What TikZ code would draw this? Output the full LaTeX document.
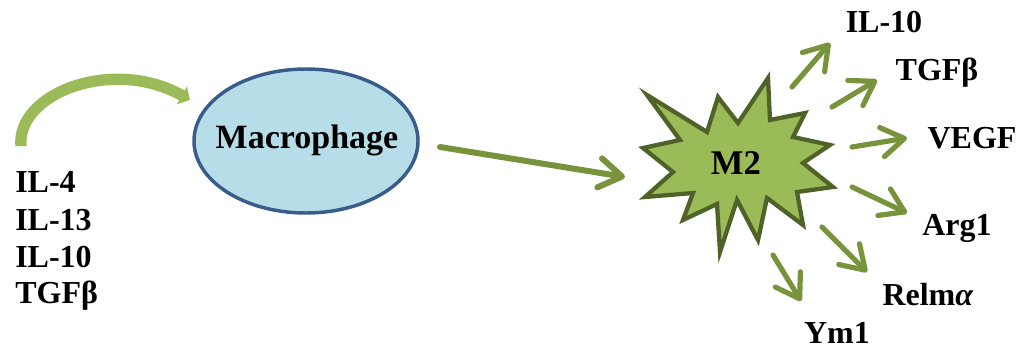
\documentclass[tikz,border=0pt]{standalone}
\usepackage{fontspec}
\setmainfont{Liberation Serif}
\usetikzlibrary{arrows.meta,shapes.geometric}
\definecolor{cellfill}{HTML}{B7DEE8}
\definecolor{cellline}{HTML}{385D8A}
\definecolor{starfill}{HTML}{9BBB59}
\definecolor{starline}{HTML}{4F6228}
\definecolor{arrowgreen}{HTML}{77933C}
\definecolor{curvegreen}{HTML}{9BBB59}
\begin{document}
\begin{tikzpicture}[x=0.75pt,y=-0.75pt,
  lbl/.style={font=\bfseries\fontsize{24pt}{28pt}\selectfont, inner sep=0pt},
  outarrow/.style={draw=arrowgreen, line width=3.9pt, line cap=round,
    -{Straight Barb[length=17pt,width=22pt,round]}},
  mainarrow/.style={draw=arrowgreen, line width=4.5pt, line cap=round,
    -{Straight Barb[length=17pt,width=22pt,round]}},
  curvearrow/.style={draw=curvegreen, line width=8.5pt,
    -{Triangle[length=7pt,width=15pt]}},
  cell/.style={ellipse, draw=cellline, fill=cellfill, line width=2.6pt,
    minimum width=168pt, minimum height=108pt, inner sep=0pt},
  star/.style={draw=starline, fill=starfill, line width=3.2pt, line join=miter}
]
\useasboundingbox (0,0) rectangle (1023,350);

% left inducers
\node[lbl, anchor=base west] (il4)  at (15,192) {IL-4};
\node[lbl, anchor=base west] (il13) at (15,230) {IL-13};
\node[lbl, anchor=base west] (il10a) at (15,267) {IL-10};
\node[lbl, anchor=base west] (tgfa) at (15,303) {TGFβ};

% curved arrow
\coordinate (c0) at (21,146);
\coordinate (c1) at (190,100);
\draw[curvearrow] (c0) .. controls (16,94) and (112,56) .. (c1);

% macrophage
\node[cell] (macro) at (306,141) {};
\node[font=\bfseries\fontsize{25.5pt}{29pt}\selectfont, inner sep=0pt, anchor=base] (macrolbl) at (307,148) {Macrophage};

% M2 star
\draw[star] (647,95) -- (707,132) -- (718,97) -- (738,123) -- (768,78) -- (770,120)
  -- (805,113) -- (793,137) -- (830,145) -- (803,163) -- (833,187) -- (797,192)
  -- (803,225) -- (767,198) -- (758,240) -- (737,200) -- (720,252) -- (717,204)
  -- (683,220) -- (693,193) -- (645,197) -- (673,172) -- (643,148) -- (680,140) -- cycle;
\node[font=\bfseries\fontsize{26pt}{30pt}\selectfont, inner sep=0pt, anchor=base] (m2) at (736,174) {M2};

% main arrow
\coordinate (ms) at (440,147);
\coordinate (me) at (625,177);
\draw[mainarrow] (ms) -- (me);

% outputs
\node[lbl, anchor=base] (o1) at (884,32) {IL-10};
\node[lbl, anchor=base] (o2) at (937,80) {TGFβ};
\node[lbl, anchor=base] (o3) at (972,148) {VEGF};
\node[lbl, anchor=base] (o4) at (957,235) {Arg1};
\node[lbl, anchor=base] (o5) at (928,305) {Relm\textit{α}};
\node[lbl, anchor=base] (o6) at (837,343) {Ym1};

\coordinate (s1) at (792,87);  \coordinate (e1) at (830,43);
\coordinate (s2) at (832,107); \coordinate (e2) at (877,80);
\coordinate (s3) at (852,147); \coordinate (e3) at (907,138);
\coordinate (s4) at (852,187); \coordinate (e4) at (907,213);
\coordinate (s5) at (822,227); \coordinate (e5) at (867,272);
\coordinate (s6) at (773,255); \coordinate (e6) at (801,301);
\draw[outarrow] (s1) -- (e1);
\draw[outarrow] (s2) -- (e2);
\draw[outarrow] (s3) -- (e3);
\draw[outarrow] (s4) -- (e4);
\draw[outarrow] (s5) -- (e5);
\draw[outarrow] (s6) -- (e6);
\end{tikzpicture}
\end{document}
